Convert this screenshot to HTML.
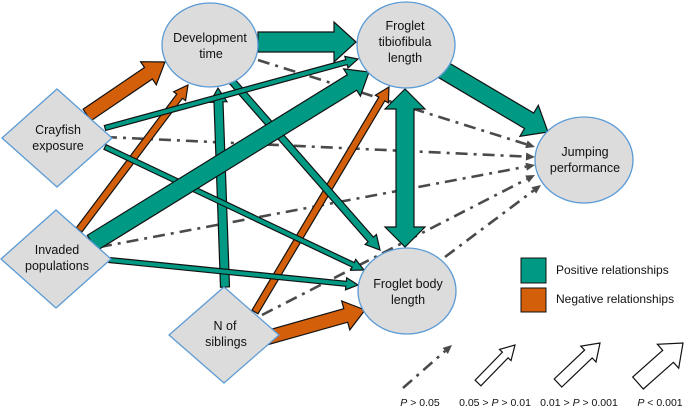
<!DOCTYPE html>
<html><head><meta charset="utf-8"><style>
html,body{margin:0;padding:0;background:#fff;width:685px;height:409px;overflow:hidden}
svg{display:block}
text{font-family:"Liberation Sans",sans-serif;fill:#111}
</style></head><body>
<svg id="s" width="685" height="409" viewBox="0 0 685 409" xmlns="http://www.w3.org/2000/svg">
<g id="arrows"></g>
<g id="nodes" fill="#dcdcdc" stroke="#5b9bd5" stroke-width="1.3">
<ellipse cx="210" cy="45" rx="48" ry="42"/>
<ellipse cx="406" cy="45" rx="49" ry="43"/>
<ellipse cx="584" cy="160" rx="49" ry="43"/>
<ellipse cx="407" cy="291" rx="49" ry="43"/>
<polygon points="57,89 112,138 57,187 2,138"/>
<polygon points="56,210 111,259 56,308 1,259"/>
<polygon points="224,287 279,335 224,383 169,335"/>
</g>
<g font-size="12.5" text-anchor="middle">
<text x="210" y="42">Development</text><text x="211" y="58">time</text>
<text x="405" y="30">Froglet</text><text x="405" y="46">tibiofibula</text><text x="405" y="62">length</text>
<text x="585" y="156">Jumping</text><text x="585" y="172">performance</text>
<text x="408" y="288">Froglet body</text><text x="408" y="304">length</text>
<text x="58" y="134">Crayfish</text><text x="58" y="150">exposure</text>
<text x="57" y="254">Invaded</text><text x="57" y="270">populations</text>
<text x="225" y="330">N of</text><text x="226" y="346">siblings</text>
</g>
<rect x="521" y="258" width="25" height="25" fill="#009a84" stroke="#111" stroke-width="1"/>
<rect x="521" y="288" width="25" height="24" fill="#d45f0a" stroke="#111" stroke-width="1"/>
<text x="556" y="274" font-size="12">Positive relationships</text>
<text x="556" y="303" font-size="12">Negative relationships</text>
<g font-size="10.5" text-anchor="middle">
<text x="420" y="406"><tspan font-style="italic">P</tspan> &gt; 0.05</text>
<text x="495" y="406">0.05 &gt; <tspan font-style="italic">P</tspan> &gt; 0.01</text>
<text x="579" y="406">0.01 &gt; <tspan font-style="italic">P</tspan> &gt; 0.001</text>
<text x="660" y="406"><tspan font-style="italic">P</tspan> &lt; 0.001</text>
</g>
</svg>
<script>
var NS="http://www.w3.org/2000/svg",g=document.getElementById("arrows");
function poly(pts,fill,sw){var p=document.createElementNS(NS,"polygon");p.setAttribute("points",pts.map(function(a){return a[0].toFixed(1)+","+a[1].toFixed(1)}).join(" "));p.setAttribute("fill",fill);p.setAttribute("stroke","#111");p.setAttribute("stroke-width",sw||1.2);p.setAttribute("stroke-linejoin","miter");g.appendChild(p);}
function blk(x1,y1,x2,y2,w,hw,hl,c,dbl){
var dx=x2-x1,dy=y2-y1,L=Math.hypot(dx,dy),ux=dx/L,uy=dy/L,nx=-uy,ny=ux;
function P(t,s){return [x1+ux*t+nx*s,y1+uy*t+ny*s];}
var pts=[];
if(dbl){pts=[P(0,0),P(hl,hw/2),P(hl,w/2),P(L-hl,w/2),P(L-hl,hw/2),P(L,0),P(L-hl,-hw/2),P(L-hl,-w/2),P(hl,-w/2),P(hl,-hw/2)];}
else{pts=[P(0,w/2),P(L-hl,w/2),P(L-hl,hw/2),P(L,0),P(L-hl,-hw/2),P(L-hl,-w/2),P(0,-w/2)];}
poly(pts,c);}
function dash(x1,y1,x2,y2){
var dx=x2-x1,dy=y2-y1,L=Math.hypot(dx,dy),ux=dx/L,uy=dy/L,nx=-uy,ny=ux,hl=9,hw=8;
var l=document.createElementNS(NS,"line");l.setAttribute("x1",x1);l.setAttribute("y1",y1);l.setAttribute("x2",x2-ux*hl);l.setAttribute("y2",y2-uy*hl);
l.setAttribute("stroke","#4a4a4a");l.setAttribute("stroke-width","2.6");l.setAttribute("stroke-dasharray","12 6 3 6");g.appendChild(l);
var p=document.createElementNS(NS,"polygon");p.setAttribute("points",[[x2,y2],[x2-ux*hl+nx*hw/2,y2-uy*hl+ny*hw/2],[x2-ux*hl-nx*hw/2,y2-uy*hl-ny*hw/2]].map(function(a){return a.join(",")}).join(" "));p.setAttribute("fill","#4a4a4a");g.appendChild(p);}
var T="#009a84",O="#d45f0a";
// dashed
dash(258,60,535,147);dash(105,137,535,157);dash(100,247,535,165);dash(262,315,535,175);dash(445,257,541,185);
// orange
blk(79,230,188,85,7,15,14,O);
blk(255,312,389,87,7,15,14,O);
blk(87,115,165,62,14,28,20,O);
blk(266,338,365,310,14,30,20,O);
// teal
blk(225,287,218,88,9,17,14,T);
blk(231,80,380,250,7,15,14,T);
blk(105,147,364,270,5,12,12,T);
blk(109,260,358,285,5,12,12,T);
blk(105,128,358,59,5,12,12,T);
blk(92,243,369,72,18,32,20,T);
blk(258,42,356,42,20,40,22,T);
blk(440,68,548,132,18,36,22,T);
blk(405,89,405,247,18,40,20,T,true);
// legend
dash(403,388,452,345);
blk(478,383,515,345,8,16,14,"#fff");
blk(558,383,600,343,11,22,16,"#fff");
blk(638,383,683,343,16,32,20,"#fff");
</script>
</body></html>
